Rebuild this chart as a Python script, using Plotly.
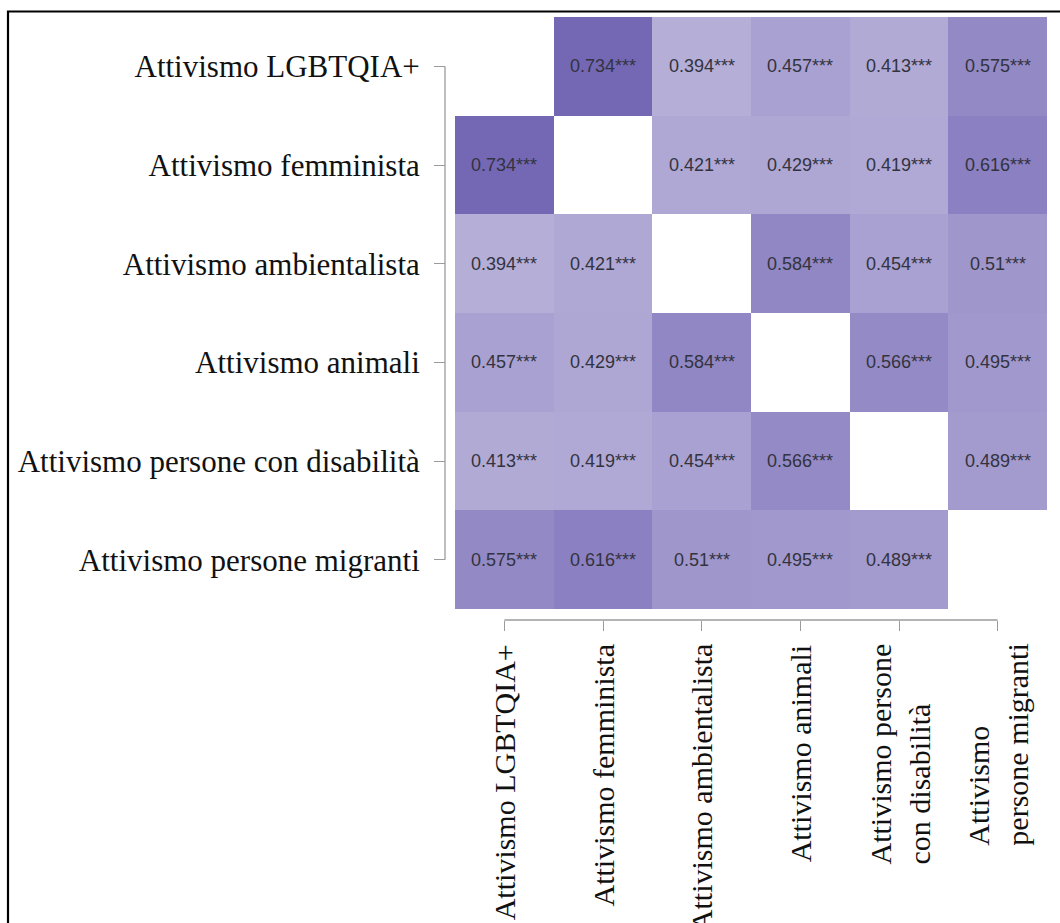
import plotly.graph_objects as go

# Activism domains (rows top to bottom, columns left to right)
domains = [
    "Attivismo LGBTQIA+",
    "Attivismo femminista",
    "Attivismo ambientalista",
    "Attivismo animali",
    "Attivismo persone con disabilità",
    "Attivismo persone migranti",
]
# Column labels as printed under the matrix (wrapped where needed)
col_labels = [
    "Attivismo LGBTQIA+",
    "Attivismo femminista",
    "Attivismo ambientalista",
    "Attivismo animali",
    "Attivismo persone<br>con disabilità",
    "Attivismo<br>persone migranti",
]

# Pearson correlations, one list per row (None on the diagonal)
r_lgbt = [None, 0.734, 0.394, 0.457, 0.413, 0.575]
r_femm = [0.734, None, 0.421, 0.429, 0.419, 0.616]
r_amb = [0.394, 0.421, None, 0.584, 0.454, 0.51]
r_anim = [0.457, 0.429, 0.584, None, 0.566, 0.495]
r_dis = [0.413, 0.419, 0.454, 0.566, None, 0.489]
r_migr = [0.575, 0.616, 0.51, 0.495, 0.489, None]
significance = "***"

z = [r_lgbt, r_femm, r_amb, r_anim, r_dis, r_migr]
cell_text = [["" if v is None else f"{v}{significance}" for v in row] for row in z]

W, H = 1060, 923
# pixel geometry of the matrix and axes
gx0, gx1, gy0, gy1 = 455, 1047, 17, 609
x_axis_y = 620
y_axis_x = 445

serif = "Liberation Serif, Times New Roman, serif"
axis_grey = "#9b9b9b"

fig = go.Figure(
    go.Heatmap(
        z=z,
        x=domains,
        y=domains,
        text=cell_text,
        texttemplate="%{text}",
        textfont=dict(family="Liberation Sans, Arial, sans-serif", size=18, color="#333340"),
        colorscale=[[0, "#ffffff"], [1, "rgb(66,49,154)"]],
        zmin=0,
        zmax=1,
        showscale=False,
        hoverongaps=False,
    )
)

fig.update_xaxes(
    type="category",
    domain=[gx0 / W, gx1 / W],
    anchor="free",
    position=(H - x_axis_y) / H,
    range=[-0.5, 5.5],
    ticks="outside",
    ticklen=10,
    tickwidth=1.3,
    tickcolor=axis_grey,
    showticklabels=False,
    showline=False,
    showgrid=False,
    zeroline=False,
)
fig.update_yaxes(
    type="category",
    domain=[(H - gy1) / H, (H - gy0) / H],
    anchor="free",
    position=y_axis_x / W,
    range=[5.5, -0.5],
    ticks="outside",
    ticklen=11,
    tickwidth=1.3,
    tickcolor=axis_grey,
    ticklabelstandoff=8,
    tickfont=dict(family=serif, size=31, color="#111111"),
    showline=False,
    showgrid=False,
    zeroline=False,
)

shapes = [
    # y axis line spanning first to last category
    dict(type="line", xref="paper", yref="y", x0=y_axis_x / W, x1=y_axis_x / W,
         y0=domains[0], y1=domains[-1], line=dict(color=axis_grey, width=1.3)),
    # x axis line spanning first to last category
    dict(type="line", xref="x", yref="paper", x0=domains[0], x1=domains[-1],
         y0=(H - x_axis_y) / H, y1=(H - x_axis_y) / H, line=dict(color=axis_grey, width=1.3)),
    # outer frame
    dict(type="rect", xref="paper", yref="paper", x0=8 / W, x1=1.05, y0=-0.05, y1=(H - 11.5) / H,
         line=dict(color="#000000", width=2.2), fillcolor="rgba(0,0,0,0)", layer="above"),
]

annotations = [
    dict(x=name, xref="x", y=(H - 642) / H, yref="paper", text=lab, textangle=-90,
         xanchor="center", yanchor="top", align="left", showarrow=False,
         font=dict(family=serif, size=30, color="#111111"))
    for name, lab in zip(domains, col_labels)
]

fig.update_layout(
    width=W,
    height=H,
    margin=dict(l=0, r=0, t=0, b=0),
    paper_bgcolor="white",
    plot_bgcolor="white",
    shapes=shapes,
    annotations=annotations,
    showlegend=False,
)

fig.write_html("out.html")
